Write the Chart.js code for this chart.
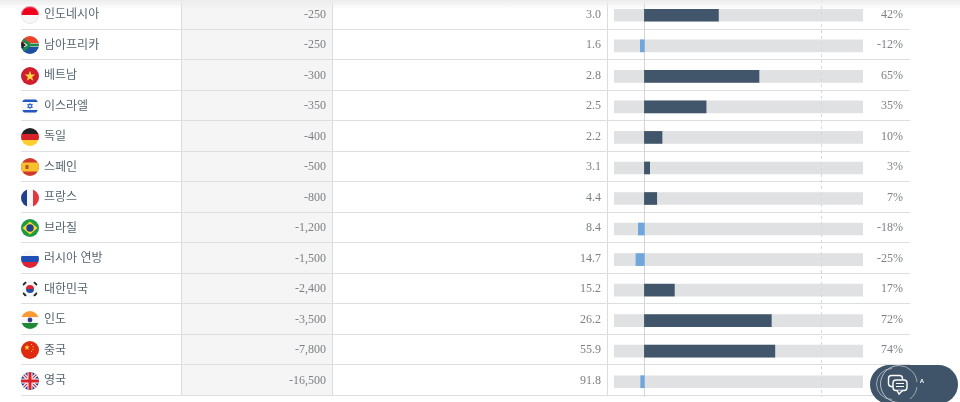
<!DOCTYPE html>
<html lang="ko">
<head>
<meta charset="utf-8">
<script src="https://cdn.jsdelivr.net/npm/chart.js@4/dist/chart.umd.min.js"></script>
<style>
html, body { margin: 0; width: 960px; height: 402px; overflow: hidden; background: #fff; }
#page { position: relative; width: 960px; height: 402px; overflow: hidden; }
#shade { position: absolute; left: 0; top: 0; width: 960px; height: 9px; z-index: 5;
  background: linear-gradient(#ececec, rgba(255,255,255,0)); }
#numcol { position: absolute; left: 181px; top: 0; width: 151px; height: 396px; background: #f5f5f5; }
.vline { position: absolute; top: 0; width: 1px; height: 396px; background: #dcdcdc; }
#rows { position: absolute; left: 21px; top: -1px; width: 889px; will-change: transform; }
.row { position: relative; height: 30.5px; box-sizing: border-box; border-bottom: 1px solid #dcdedf; }
.row svg { position: absolute; left: 0; top: 6.5px; width: 18px; height: 18px; border-radius: 50%; }
.row span { position: absolute; top: 6.5px; line-height: 16px; white-space: nowrap; }
.name { left: 23px; top: 6px !important; font: 12px "Noto Sans CJK KR", sans-serif; color: #56656f; }
.num { font: 12px "Liberation Serif", serif; color: #7d8084; text-align: right; }
.change { right: 584px; }
.total { right: 309px; }
.pct { right: 7px; }
#chartbox { position: absolute; left: 614px; top: -0.5px; width: 249px; height: 397px; }
#widget { position: absolute; left: 866px; top: 360px; z-index: 6; }
</style>
</head>
<body>
<div id="page">
  <div id="numcol"></div>
  <div class="vline" style="left:181px"></div>
  <div class="vline" style="left:332px"></div>
  <div class="vline" style="left:607px"></div>
  <div id="rows"></div>
  <div id="chartbox"><canvas id="myChart"></canvas></div>
  <div id="shade"></div>
  <svg id="widget" width="94" height="42" viewBox="0 0 94 42">
    <rect x="4" y="5" width="88" height="39" rx="19.5" fill="#3f5468"/>
    <path d="M26 8.5 A15.5 15.5 0 0 0 26 39.5" fill="none" stroke="#a9b4be" stroke-width="0.9"/>
    <path d="M33 5.5 A18.5 18.5 0 0 0 33 42.5" fill="none" stroke="#c5ccd3" stroke-width="0.9"/>
    <path d="M33 5.5 A18.5 18.5 0 0 1 51 22 M51 27 A18.5 18.5 0 0 1 44 39" fill="none" stroke="#aab5bf" stroke-width="0.9"/>
    <rect x="22.5" y="15.5" width="14" height="11" rx="3" fill="#3f5468" stroke="#fff" stroke-width="1.4"/>
    <rect x="27" y="20" width="14" height="10.5" rx="3" fill="#3f5468" stroke="#fff" stroke-width="1.4"/>
    <path d="M31 30.5 L33 34 L36.5 30.5" fill="#3f5468" stroke="#fff" stroke-width="1.4"/>
    <path d="M30 23.5 H38 M30 26.5 H38" stroke="#fff" stroke-width="1.2"/>
    <text x="56" y="23" font-family="Liberation Sans, sans-serif" font-size="6" font-weight="bold" fill="#fff" text-anchor="middle">A</text>
  </svg>
</div>
<script>
const countries = ['인도네시아', '남아프리카', '베트남', '이스라엘', '독일', '스페인', '프랑스', '브라질', '러시아 연방', '대한민국', '인도', '중국', '영국'];
const flagCodes = ['id', 'za', 'vn', 'il', 'de', 'es', 'fr', 'br', 'ru', 'kr', 'in', 'cn', 'gb'];
const changes = ['-250', '-250', '-300', '-350', '-400', '-500', '-800', '-1,200', '-1,500', '-2,400', '-3,500', '-7,800', '-16,500'];
const totals = ['3.0', '1.6', '2.8', '2.5', '2.2', '3.1', '4.4', '8.4', '14.7', '15.2', '26.2', '55.9', '91.8'];
const percents = [42, -12, 65, 35, 10, 3, 7, -18, -25, 17, 72, 74, -11];

const star = (cx, cy, r, fill) => {
    let pts = [];
    for (let i = 0; i < 10; i++) {
        const a = -Math.PI / 2 + i * Math.PI / 5, d = i % 2 ? r * 0.4 : r;
        pts.push((cx + d * Math.cos(a)).toFixed(2) + ',' + (cy + d * Math.sin(a)).toFixed(2));
    }
    return `<polygon points="${pts.join(' ')}" fill="${fill}"/>`;
};
const hBands = (a, b, c) => `<rect width="18" height="6" fill="${a}"/><rect y="6" width="18" height="6" fill="${b}"/><rect y="12" width="18" height="6" fill="${c}"/>`;

const flags = {
    id: '<rect width="18" height="18" fill="#f7f7f7"/><rect width="18" height="9" fill="#f0001c"/><circle cx="9" cy="9" r="8.6" fill="none" stroke="#ddd" stroke-width=".7"/>',
    za: '<rect width="18" height="18" fill="#fff"/><rect width="18" height="7" fill="#e8452c"/><rect y="11" width="18" height="7" fill="#1f4fa3"/><path d="M0 2 L9 9 L0 16 M9 9 H18" stroke="#1f8a4c" stroke-width="3" fill="none"/><polygon points="0,5 5,9 0,13" fill="#222"/>',
    vn: '<rect width="18" height="18" fill="#cf1f2e"/>' + star(9, 9.3, 5.5, '#ffd83d'),
    il: '<rect width="18" height="18" fill="#f8f8f8"/><rect y="2.5" width="18" height="2.5" fill="#2257c4"/><rect y="13" width="18" height="2.5" fill="#2257c4"/><path d="M9 6.3 L11.4 10.5 H6.6 Z M9 11.7 L11.4 7.5 H6.6 Z" fill="none" stroke="#2257c4" stroke-width=".8"/>',
    de: hBands('#222', '#d8232a', '#ffce2e'),
    es: '<rect width="18" height="18" fill="#cf3a2a"/><rect y="4.5" width="18" height="9" fill="#f7c02c"/><rect x="4.5" y="7" width="3" height="4" fill="#b5502c"/>',
    fr: '<rect width="6" height="18" fill="#1f3f8f"/><rect x="6" width="6" height="18" fill="#f7f7f7"/><rect x="12" width="6" height="18" fill="#e8343c"/>',
    br: '<rect width="18" height="18" fill="#1f9a44"/><polygon points="9,2.5 16.5,9 9,15.5 1.5,9" fill="#fcd92c"/><circle cx="9" cy="9" r="3.7" fill="#1f3f8f"/>',
    ru: hBands('#f7f7f7', '#1f4fb5', '#dd2233'),
    kr: '<rect width="18" height="18" fill="#f7f7f7"/><path d="M5 9 A4 4 0 0 1 13 9 Z" fill="#dd2233"/><path d="M5 9 A4 4 0 0 0 13 9 Z" fill="#1f4f9f"/><path d="M2 5 L5 2 M13 2 L16 5 M2 13 L5 16 M13 16 L16 13" stroke="#222" stroke-width="1.8"/>',
    in: hBands('#f99a33', '#f8f8f8', '#1f8a36') + '<circle cx="9" cy="9" r="2.4" fill="#3a3a8c"/>',
    cn: '<rect width="18" height="18" fill="#df2a12"/>' + star(6, 6.5, 3, '#ffd83d') + '<circle cx="10.5" cy="3.5" r=".6" fill="#ffd83d"/><circle cx="12" cy="5.8" r=".6" fill="#ffd83d"/><circle cx="12" cy="8.5" r=".6" fill="#ffd83d"/><circle cx="10.5" cy="10.5" r=".6" fill="#ffd83d"/>',
    gb: '<rect width="18" height="18" fill="#1f3f8f"/><path d="M0 0 L18 18 M18 0 L0 18" stroke="#f7f7f7" stroke-width="3.4"/><path d="M0 0 L18 18 M18 0 L0 18" stroke="#d8232a" stroke-width="1.1"/><path d="M9 0 V18 M0 9 H18" stroke="#f7f7f7" stroke-width="5"/><path d="M9 0 V18 M0 9 H18" stroke="#d8232a" stroke-width="3"/>'
};

// table rows
document.getElementById('rows').innerHTML = countries.map((name, i) => `
    <div class="row">
        <svg viewBox="0 0 18 18">${flags[flagCodes[i]]}</svg>
        <span class="name">${name}</span>
        <span class="num change">${changes[i]}</span>
        <span class="num total">${totals[i]}</span>
        <span class="num pct">${percents[i]}%</span>
    </div>`).join('');

const trackMin = -90;
const trackMax = 124;

// the picture squeezes negatives into the left 30px, positives get the rest
class SplitScale extends Chart.LinearScale {
    getPixelForValue(value) {
        const zero = this.left + 30.4;
        if (value < 0) return zero + (value / -trackMin) * 30.4;
        return zero + (value / trackMax) * (this.right - zero);
    }
}
SplitScale.id = 'split';
SplitScale.defaults = Chart.LinearScale.defaults;
Chart.register(SplitScale);

// zero line under the bars, dashed 100% line over them
const refLines = {
    id: 'refLines',
    beforeDatasetsDraw(chart) {
        const { ctx, chartArea, scales } = chart;
        ctx.save();
        ctx.lineWidth = 1;
        ctx.strokeStyle = '#d2d6da';
        const x0 = Math.round(scales.x.getPixelForValue(0)) + 0.5;
        ctx.beginPath();
        ctx.moveTo(x0, chartArea.top);
        ctx.lineTo(x0, chartArea.bottom);
        ctx.stroke();
        ctx.restore();
    },
    afterDatasetsDraw(chart) {
        const { ctx, chartArea, scales } = chart;
        ctx.save();
        ctx.lineWidth = 1;
        ctx.strokeStyle = '#d6d9dc';
        ctx.setLineDash([3, 3]);
        const x100 = Math.round(scales.x.getPixelForValue(100)) + 0.5;
        ctx.beginPath();
        ctx.moveTo(x100, chartArea.top);
        ctx.lineTo(x100, chartArea.bottom);
        ctx.stroke();
        ctx.restore();
    }
};

new Chart(document.getElementById('myChart'), {
    type: 'bar',
    plugins: [refLines],
    data: {
        labels: countries,
        datasets: [{
            label: 'percent',
            data: percents,
            backgroundColor: percents.map(v => v < 0 ? '#6fa6db' : '#41566a'),
            barThickness: 12,
            order: 1
        }, {
            label: 'track',
            data: countries.map(() => [trackMin, trackMax]),
            backgroundColor: '#e0e1e2',
            barThickness: 12,
            order: 2
        }]
    },
    options: {
        indexAxis: 'y',
        responsive: true,
        maintainAspectRatio: false,
        animation: false,
        layout: { padding: 0 },
        plugins: { legend: { display: false }, tooltip: { enabled: false } },
        datasets: { bar: { grouped: false } },
        scales: {
            x: { type: 'split', display: false, min: trackMin, max: trackMax },
            y: { display: false }
        }
    }
});
</script>
</body>
</html>
